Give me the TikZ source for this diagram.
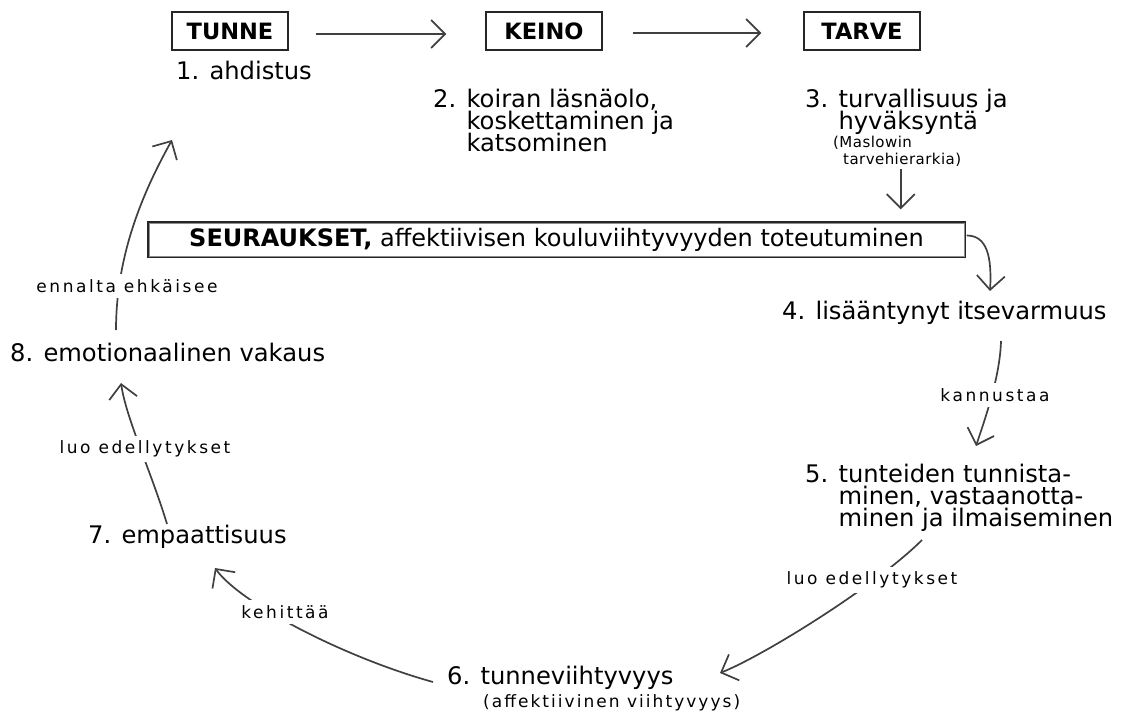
\documentclass[tikz,border=0pt]{standalone}
\usepackage{fontspec}
\setmainfont{DejaVu Sans}
\newfontfamily\lblfont{DejaVu Sans}[LetterSpace=15]
\newfontfamily\subfont{DejaVu Sans}[LetterSpace=12]
\newfontfamily\notefont{DejaVu Sans}[LetterSpace=3]
\newcommand\tightlines{\lineskiplimit=-100pt\relax}
\usetikzlibrary{arrows.meta}
\begin{document}
\begin{tikzpicture}[x=1pt,y=-1pt,
  every node/.style={inner sep=0pt, text=black},
  main/.style={font=\fontsize{24.2}{22}\selectfont\tightlines, align=left},
  note/.style={font=\notefont\fontsize{15}{17}\selectfont\tightlines, align=left},
  head/.style={draw=black!85, line width=1.3pt, font=\fontsize{22.5}{24}\selectfont\bfseries,
    minimum width=116pt, minimum height=38pt},
  lbl/.style={font=\lblfont\fontsize{17}{19}\selectfont, fill=white, inner xsep=3pt, inner ysep=5pt},
  link/.style={draw=black!75, line width=1.7pt},
  arr/.style={link, -{Straight Barb[length=14pt,width=28pt]}}
]
\useasboundingbox (0,0) rectangle (1122,717);

% top row: feeling, means, need
\node[head] (tunne) at (230,31) {TUNNE};
\node[head] (keino) at (544,31) {KEINO};
\node[head] (tarve) at (862,31) {TARVE};

\node[main, anchor=west] (n1) at (176,70) {1. ahdistus};
\node[main, anchor=north west] (n2) at (433,89)
  {2. koiran läsnäolo,\\\hphantom{2. }koskettaminen ja\\\hphantom{2. }katsominen};
\node[main, anchor=north west] (n3) at (805,89)
  {3. turvallisuus ja\\\hphantom{3. }hyväksyntä};
\node[note, anchor=north west] (maslow) at (833,136)
  {(Maslowin\\\hspace{10pt}tarvehierarkia)};

% consequences bar
\node[draw=black!85, line width=1.4pt, minimum width=817pt, minimum height=35pt,
      font=\fontsize{24}{26}\selectfont] (seur) at (556.5,239.5)
  {\textbf{SEURAUKSET,} affektiivisen kouluviihtyvyyden toteutuminen};
\draw[black!45, line width=1pt]
  ([shift={(1.7,1.7)}]seur.north west) rectangle ([shift={(-1.7,-1.7)}]seur.south east);

% the cycle
\node[main, anchor=west] (n4) at (782,313) {4. lisääntynyt itsevarmuus};
\node[main, anchor=north west] (n5) at (805,464)
  {5. tunteiden tunnista-\\\hphantom{5. }minen, vastaanotta-\\\hphantom{5. }minen ja ilmaiseminen};
\node[main, anchor=west] (n6) at (447,678) {6. tunneviihtyvyys};
\node[font=\subfont\fontsize{17}{19}\selectfont, anchor=west] (n6b) at (483,703)
  {(affektiivinen viihtyvyys)};
\node[main, anchor=west] (n7) at (88,537) {7. empaattisuus};
\node[main, anchor=west] (n8) at (10,352) {8. emotionaalinen vakaus};

% connectors
\draw[arr] ([shift={(27,3)}]tunne.east) -- ([shift={(-39,3)}]keino.west);
\draw[arr] ([shift={(30,2)}]keino.east) -- ([shift={(-42,2)}]tarve.west);
\draw[arr] ([shift={(-65,-52)}]seur.north east) -- ([shift={(-65,-12)}]seur.north east);
\draw[arr] ([shift={(1,-4)}]seur.east) .. controls +(20,0) and +(2,-35) .. ([shift={(208,-22)}]n4.west);
\draw[arr] ([shift={(219,28)}]n4.west) .. controls +(-1,35) and +(10,-30) .. ([shift={(171,-18)}]n5.north west);
\draw[arr] ([shift={(117,76)}]n5.north west) .. controls +(-45,45) and +(45,-18) .. ([shift={(273,-5)}]n6.west);
\draw[arr] ([shift={(-14,4)}]n6.west) .. controls +(-90,-25) and +(25,35) .. ([shift={(127,31)}]n7.west);
\draw[arr] ([shift={(79,-13)}]n7.west) .. controls +(-15,-50) and +(5,35) .. ([shift={(111,31)}]n8.west);
\draw[arr] ([shift={(106,-22)}]n8.west) .. controls +(0,-80) and +(-25,45) .. ([shift={(-4,70)}]n1.west);

% connector labels
\node[lbl] (l45) at (995,395) {kannustaa};
\node[lbl] (l56) at (872,580) {luo edellytykset};
\node[lbl] (l67) at (285,612) {kehittää};
\node[lbl] (l78) at (145,449) {luo edellytykset};
\node[lbl] (l81) at (127,286) {ennalta ehkäisee};
\end{tikzpicture}
\end{document}
